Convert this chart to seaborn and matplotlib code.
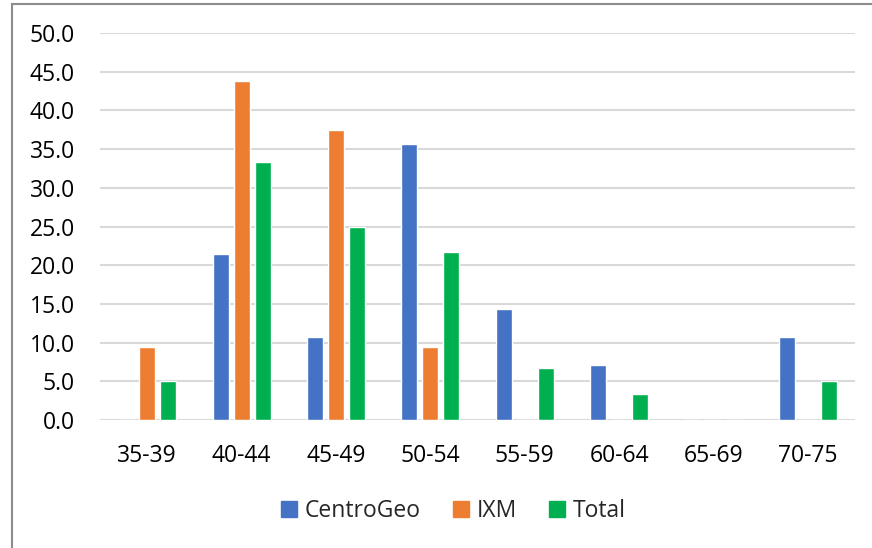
import matplotlib
matplotlib.use("Agg")
import matplotlib.pyplot as plt
import seaborn as sns
import pandas as pd
from matplotlib.patches import Rectangle

categories = ["35-39", "40-44", "45-49", "50-54", "55-59", "60-64", "65-69", "70-75"]
centrogeo = [0.0, 21.4, 10.7, 35.7, 14.3, 7.1, 0.0, 10.7]
ixm = [9.4, 43.8, 37.5, 9.4, 0.0, 0.0, 0.0, 0.0]
total = [5.0, 33.3, 25.0, 21.7, 6.7, 3.3, 0.0, 5.0]
series_names = ["CentroGeo", "IXM", "Total"]
colors = ["#4472C4", "#ED7D31", "#00B050"]
yticks = [0, 5, 10, 15, 20, 25, 30, 35, 40, 45, 50]

rows = []
for name, vals in zip(series_names, [centrogeo, ixm, total]):
    for c, v in zip(categories, vals):
        rows.append({"cat": c, "serie": name, "val": v})
df = pd.DataFrame(rows)

sns.set_theme(style="white")
plt.rcParams["font.family"] = ["Open Sans", "DejaVu Sans"]

fig = plt.figure(figsize=(8.72, 5.48), dpi=100)
ax = fig.add_axes([100/872, 1-420/548, 755/872, 387/548])

sns.barplot(data=df, x="cat", y="val", hue="serie", order=categories,
            hue_order=series_names, palette=colors, width=0.667,
            saturation=1, ax=ax, legend=False, errorbar=None)

# shrink bars to leave small gaps between them
for p in ax.patches:
    w = p.get_width()
    cx = p.get_x() + w / 2
    nw = w * 16 / 21
    p.set_x(cx - nw / 2)
    p.set_width(nw)

ax.set_ylim(0, 50)
ax.set_xlim(-0.5, len(categories) - 0.5)
ax.set_yticks(yticks)
ax.set_yticklabels([f"{v:.1f}" for v in yticks])
ax.yaxis.grid(True, color="#d9d9d9", linewidth=1.5)
ax.set_axisbelow(True)
for s in ax.spines.values():
    s.set_visible(False)
ax.tick_params(axis="y", length=0, pad=18, labelsize=16.5, colors="#000000")
ax.tick_params(axis="x", length=0, pad=17, labelsize=16.5, colors="#000000")
ax.set_xlabel("")
ax.set_ylabel("")

handles = [Rectangle((0, 0), 1, 1, color=c) for c in colors]
fig.legend(handles, series_names, loc="center", bbox_to_anchor=(0.52, 1-511/548),
           ncol=3, frameon=False, fontsize=16.5, handlelength=0.7, handleheight=0.7,
           handletextpad=0.35, columnspacing=1.4)

frame = Rectangle((12/872, -0.05), 1.2, 1-4/548+0.05, transform=fig.transFigure,
                  fill=False, edgecolor="#8c8c8c", linewidth=1.5)
fig.patches.append(frame)

fig.savefig("out.png", dpi=100)
